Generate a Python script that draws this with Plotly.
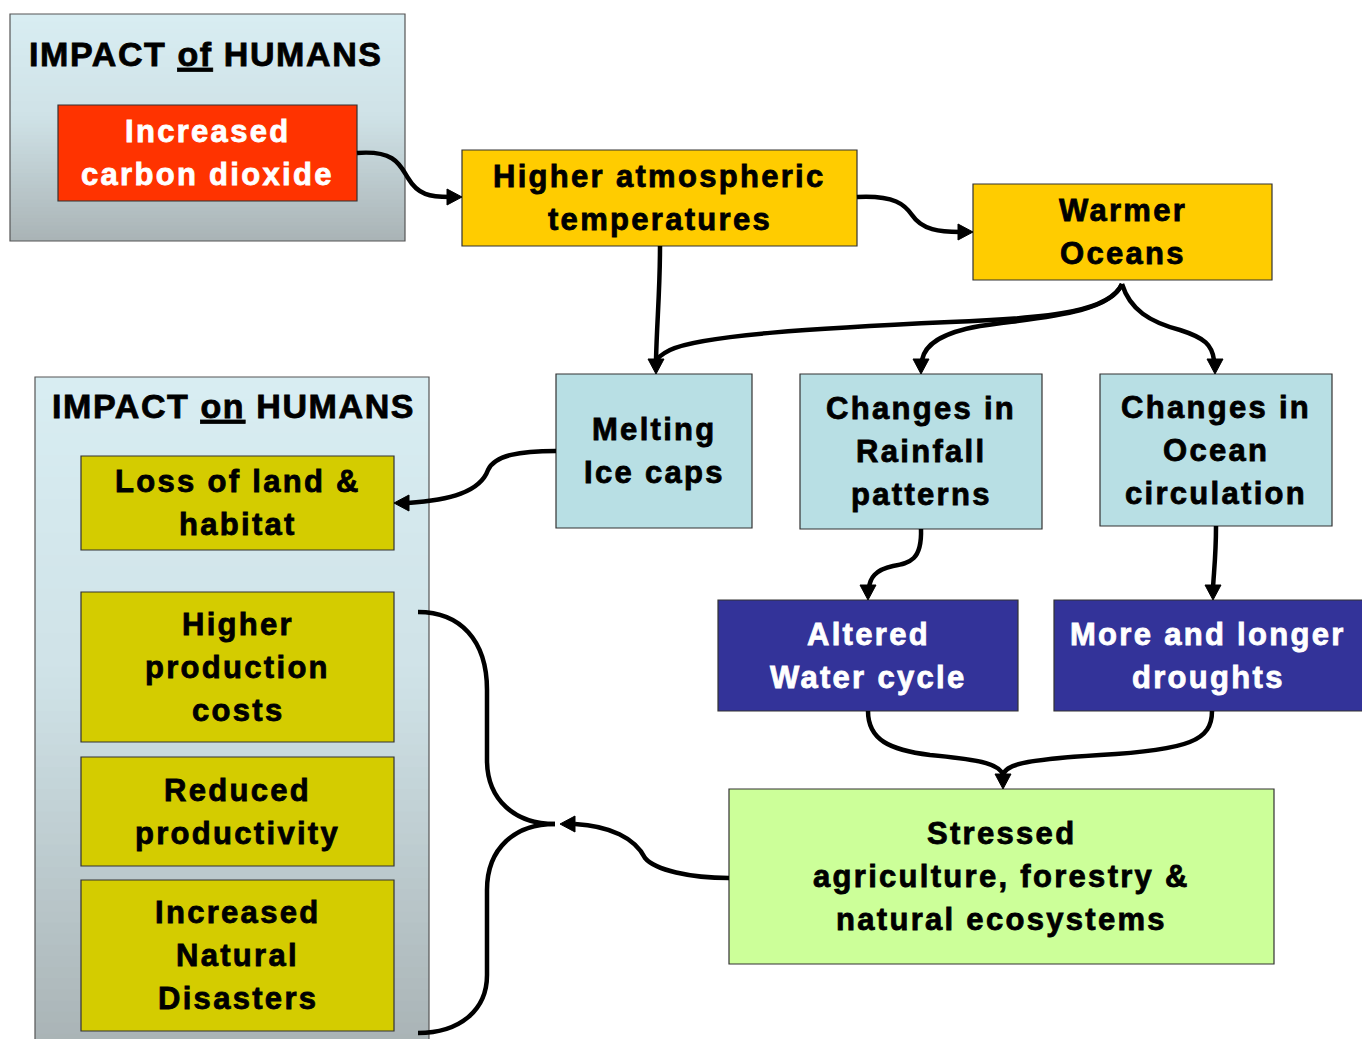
import plotly.graph_objects as go

W, H = 1362, 1039

# ---- content ----
group_titles = ["IMPACT <u>of</u> HUMANS", "IMPACT <u>on</u> HUMANS"]
node_labels = [
    "Increased<br>carbon dioxide",
    "Higher atmospheric<br>temperatures",
    "Warmer<br>Oceans",
    "Melting<br>Ice caps",
    "Changes in<br>Rainfall<br>patterns",
    "Changes in<br>Ocean<br>circulation",
    "Altered<br>Water cycle",
    "More and longer<br>droughts",
    "Stressed<br>agriculture, forestry &<br>natural ecosystems",
    "Loss of land &<br>habitat",
    "Higher<br>production<br>costs",
    "Reduced<br>productivity",
    "Increased<br>Natural<br>Disasters",
]

# ---- layout geometry (pixels) ----
group_boxes = [(10, 14, 405, 241), (35, 377, 429, 1045)]
group_title_pos = [(206, 54), (233, 406)]
node_boxes = [
    (58, 105, 357, 201),
    (462, 150, 857, 246),
    (973, 184, 1272, 280),
    (556, 374, 752, 528),
    (800, 374, 1042, 529),
    (1100, 374, 1332, 526),
    (718, 600, 1018, 711),
    (1054, 600, 1366, 711),
    (729, 789, 1274, 964),
    (81, 456, 394, 550),
    (81, 592, 394, 742),
    (81, 757, 394, 866),
    (81, 880, 394, 1031),
]
RED, GOLD, LBLUE, NAVY, LGREEN, OLIVE = "#ff3300", "#ffcc00", "#b8dfe4", "#333399", "#ccff99", "#d4cc00"
node_fill = [RED, GOLD, GOLD, LBLUE, LBLUE, LBLUE, NAVY, NAVY, LGREEN, OLIVE, OLIVE, OLIVE, OLIVE]
node_text_color = ["#ffffff", "#000000", "#000000", "#000000", "#000000", "#000000", "#ffffff", "#ffffff",
                   "#000000", "#000000", "#000000", "#000000", "#000000"]

FONT = "Liberation Sans, Arial, sans-serif"
LINE_GAP = 43
TEXT_SIZE = 31
TEXT_LS = 2.3
TITLE_SIZE = 34
TITLE_LS = 1.6

fig = go.Figure()
shapes = []
annotations = []

def hexmix(c1, c2, t):
    a = [int(c1[i:i + 2], 16) for i in (1, 3, 5)]
    b = [int(c2[i:i + 2], 16) for i in (1, 3, 5)]
    return "#%02x%02x%02x" % tuple(round(a[k] + (b[k] - a[k]) * t) for k in range(3))

def styled(txt, ls, col):
    return ("<b><span style='letter-spacing:%.1fpx;stroke:%s;stroke-width:0.8px'>%s</span></b>"
            % (ls, col, txt))

# gradient group boxes
for (x0, y0, x1, y1) in group_boxes:
    n = 60
    top, mid, bot = "#d8edf2", "#cfe2e7", "#aab4b6"
    for i in range(n):
        t = i / (n - 1)
        c = hexmix(top, mid, t / 0.45) if t < 0.45 else hexmix(mid, bot, (t - 0.45) / 0.55)
        ya = y0 + (y1 - y0) * i / n
        yb = y0 + (y1 - y0) * (i + 1) / n + 0.8
        shapes.append(dict(type="rect", x0=x0, x1=x1, y0=ya, y1=min(yb, y1), fillcolor=c,
                           line=dict(width=0), layer="below"))
    shapes.append(dict(type="rect", x0=x0, x1=x1, y0=y0, y1=y1, fillcolor="rgba(0,0,0,0)",
                       line=dict(color="#555555", width=1.2), layer="below"))

for t, (x, y) in zip(group_titles, group_title_pos):
    annotations.append(dict(x=x, y=y, text=styled(t, TITLE_LS, "#000000"), showarrow=False,
                            font=dict(family=FONT, size=TITLE_SIZE, color="black"),
                            xanchor="center", yanchor="middle"))

for lab, (x0, y0, x1, y1), fc, tc in zip(node_labels, node_boxes, node_fill, node_text_color):
    shapes.append(dict(type="rect", x0=x0, x1=x1, y0=y0, y1=y1, fillcolor=fc,
                       line=dict(color="#333333", width=1.2)))
    lines = lab.split("<br>")
    cx, cy = (x0 + min(x1, W)) / 2, (y0 + y1) / 2
    for k, ln in enumerate(lines):
        yy = cy + (k - (len(lines) - 1) / 2) * LINE_GAP
        annotations.append(dict(x=cx, y=yy, text=styled(ln, TEXT_LS, tc),
                                showarrow=False, font=dict(family=FONT, size=TEXT_SIZE, color=tc),
                                xanchor="center", yanchor="middle"))

# ---- connectors ----
LW = 4.5
def path(d):
    shapes.append(dict(type="path", path=d, line=dict(color="black", width=LW),
                       fillcolor="rgba(0,0,0,0)"))

def head(tx, ty, dx, dy, L=15, hw=8):
    n = (dx * dx + dy * dy) ** 0.5
    dx, dy = dx / n, dy / n
    px, py = -dy, dx
    bx, by = tx - dx * L, ty - dy * L
    d = "M%.1f,%.1f L%.1f,%.1f L%.1f,%.1f Z" % (tx, ty, bx + px * hw, by + py * hw, bx - px * hw, by - py * hw)
    shapes.append(dict(type="path", path=d, fillcolor="black", line=dict(color="black", width=1)))

# CO2 -> higher temps
path("M357,153 C395,150 400,165 408,178 C418,195 430,197 450,197")
head(462, 197, 1, 0)
# higher temps -> warmer oceans
path("M857,197 C895,195 905,205 912,215 C922,230 940,232 960,232")
head(973, 232, 1, 0)
# higher temps -> melting
path("M660,246 C660,290 657,320 656,360")
head(656, 374, 0, 1)
# warmer oceans -> melting
path("M1122,284 C1110,310 1060,318 950,322 C820,328 700,335 670,350 C660,355 657,358 656,362")
# warmer oceans -> rainfall
path("M1122,284 C1110,315 1030,318 980,326 C940,333 925,345 922,360")
head(921, 374, 0, 1)
# warmer oceans -> ocean circulation
path("M1122,284 C1130,310 1150,322 1180,330 C1205,338 1212,345 1214,360")
head(1215, 374, 0, 1)
# melting -> loss of land
path("M556,451 C520,451 495,455 488,470 C480,492 450,500 408,503")
head(394, 503, -1, 0)
# rainfall -> altered water cycle
path("M921,529 C922,560 910,563 893,566 C875,570 870,578 869,588")
head(868, 600, 0, 1)
# ocean circulation -> droughts
path("M1216,526 C1216,555 1214,570 1213,588")
head(1213, 600, 0, 1)
# altered + droughts -> stressed
path("M868,711 C868,740 890,750 930,755 C985,760 1000,765 1003,775")
path("M1212,711 C1212,740 1190,750 1100,755 C1020,760 1006,765 1003,775")
head(1003, 789, 0, 1)
# stressed -> bracket
path("M729,878 C690,878 655,870 645,858 C635,838 610,826 575,824")
head(560, 824, -1, 0)
# bracket
path("M418,612 C460,612 487,640 487,690 L487,760 C487,800 515,824 555,824")
path("M555,824 C515,824 487,848 487,890 L487,975 C487,1010 460,1033 418,1033")

fig.update_layout(
    width=W, height=H,
    margin=dict(l=0, r=0, t=0, b=0),
    paper_bgcolor="white", plot_bgcolor="white",
    xaxis=dict(range=[0, W], visible=False, fixedrange=True),
    yaxis=dict(range=[H, 0], visible=False, fixedrange=True),
    shapes=shapes, annotations=annotations, showlegend=False,
)
fig.write_html("out.html", config={"displayModeBar": False},
               post_script="document.body.style.margin='0';document.body.style.overflow='hidden';")
